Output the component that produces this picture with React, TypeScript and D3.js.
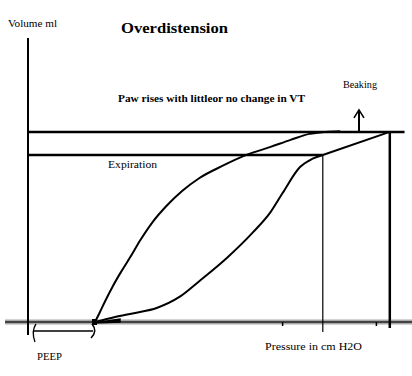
import React from "react";
import * as d3 from "d3";

// Inspiratory limb (pressure cmH2O, volume ml)
const inspPressure = [5, 6.5, 8, 9.6, 11.3, 12.8, 14.9, 16.8, 18.1, 19, 20.3, 21.2, 22];
const inspVolume = [0, 15, 27, 42, 75, 123, 194, 269, 329, 386, 464, 488, 500];
// Overdistension "beak" segment
const beakPressure = [22, 27];
const beakVolume = [500, 569];
// Expiratory limb
const expPressure = [5, 5.3, 5.8, 6.3, 6.9, 7.6, 8.4, 9.3, 10.4, 11.5, 12.8, 14.5, 16.3, 18.1, 19.6, 21, 22.2, 23.3];
const expVolume = [0, 24, 66, 105, 147, 192, 246, 299, 350, 392, 431, 467, 500, 524, 545, 563, 569, 571];

const peep = 5;
const tidalVolume = 500;
const peakVolume = 569;
const endPressure = 22;
const peakPressure = 27;
const beakArrowPressure = 24.7;
const axisTicks = [19, 26];

const W = 412;
const H = 376;

export default function App() {
  const x = d3.scaleLinear().domain([0, 30]).range([28, 430]);
  const y = d3.scaleLinear().domain([0, 850]).range([322, 38]);

  const smooth = d3
    .line<[number, number]>()
    .x((d) => x(d[0]))
    .y((d) => y(d[1]))
    .curve(d3.curveMonotoneX);
  const straight = d3
    .line<[number, number]>()
    .x((d) => x(d[0]))
    .y((d) => y(d[1]));

  const insp = inspPressure.map((p, i) => [p, inspVolume[i]] as [number, number]);
  const beak = beakPressure.map((p, i) => [p, beakVolume[i]] as [number, number]);
  const exp = expPressure.map((p, i) => [p, expVolume[i]] as [number, number]);

  const x0 = x(0);
  const y0 = y(0);
  const font = '"Liberation Serif", "Times New Roman", Times, serif';
  const ax = x(beakArrowPressure);
  const arrowTop = y(peakVolume) - 22;

  const bracketY = y0 + 9;
  const px = x(peep);
  const ts = { fontFamily: font };

  return (
    <svg
      width={W}
      height={H}
      style={{ position: "absolute", left: 0, top: 0, background: "#fff" }}
    >
      <rect x={0} y={0} width={W} height={H} fill="#fff" />
      {/* x axis: gray band with dark line */}
      <line x1={5} x2={412} y1={y0} y2={y0} stroke="#a8a8a8" strokeWidth={5} />
      <line x1={5} x2={412} y1={y0} y2={y0} stroke="#222" strokeWidth={1.3} />
      {axisTicks.map((t) => (
        <line key={t} x1={x(t)} x2={x(t)} y1={y0} y2={y0 + 4} stroke="#000" strokeWidth={1.5} />
      ))}
      {/* y axis */}
      <line x1={x0} x2={x0} y1={38} y2={y0 + 13} stroke="#000" strokeWidth={2} />

      {/* reference lines */}
      <line x1={x0} x2={x(28.1)} y1={y(peakVolume)} y2={y(peakVolume)} stroke="#000" strokeWidth={2.5} />
      <line x1={x0} x2={x(endPressure)} y1={y(tidalVolume)} y2={y(tidalVolume)} stroke="#000" strokeWidth={2.5} />
      <line x1={x(endPressure)} x2={x(endPressure)} y1={y(tidalVolume)} y2={y0 + 10} stroke="#000" strokeWidth={1.2} />
      <line x1={x(peakPressure)} x2={x(peakPressure)} y1={y(peakVolume)} y2={y0 + 6} stroke="#000" strokeWidth={2.5} />

      {/* loop */}
      <path d={smooth(insp) || ""} fill="none" stroke="#000" strokeWidth={2} />
      <path d={straight(beak) || ""} fill="none" stroke="#000" strokeWidth={2} />
      <path d={smooth(exp) || ""} fill="none" stroke="#000" strokeWidth={2} />
      <path
        d={`M${px - 2},${y0 + 1} L${px + 25},${y0 - 3} L${px + 25},${y0} Z`}
        fill="#000"
        stroke="#000"
        strokeWidth={1.5}
      />
      <rect x={px - 3} y={y0 - 3} width={5} height={6} fill="#000" />

      {/* beaking arrow */}
      <line x1={ax} x2={ax} y1={y(peakVolume)} y2={arrowTop} stroke="#000" strokeWidth={2} />
      <path
        d={`M${ax - 5},${arrowTop + 8} L${ax},${arrowTop} L${ax + 5},${arrowTop + 8}`}
        fill="none"
        stroke="#000"
        strokeWidth={1.6}
      />

      {/* PEEP bracket */}
      <line x1={33} x2={px - 2} y1={bracketY} y2={bracketY} stroke="#000" strokeWidth={1.5} />
      <path d={`M36,${y0 + 2} Q31,${bracketY} 35,${y0 + 20}`} fill="none" stroke="#000" strokeWidth={1.3} />
      <path
        d={`M${px - 3},${y0 + 2} Q${px + 3},${bracketY} ${px - 4},${y0 + 16}`}
        fill="none"
        stroke="#000"
        strokeWidth={1.5}
      />

      {/* texts */}
      <text style={ts} x={8} y={27} fontSize={10} textLength={49} lengthAdjust="spacingAndGlyphs">
        Volume ml
      </text>
      <text style={ts} x={121} y={33} fontSize={15} fontWeight="bold" textLength={107} lengthAdjust="spacingAndGlyphs">
        Overdistension
      </text>
      <text style={ts} x={118} y={102} fontSize={10} fontWeight="bold" textLength={187} lengthAdjust="spacingAndGlyphs">
        Paw rises with littleor no change in VT
      </text>
      <text style={ts} x={343} y={88} fontSize={11} textLength={34} lengthAdjust="spacingAndGlyphs">
        Beaking
      </text>
      <text style={ts} x={108} y={168} fontSize={10} textLength={49} lengthAdjust="spacingAndGlyphs">
        Expiration
      </text>
      <text style={ts} x={265} y={350} fontSize={10} textLength={97} lengthAdjust="spacingAndGlyphs">
        Pressure in cm H2O
      </text>
      <text style={ts} x={37} y={360} fontSize={10} textLength={25} lengthAdjust="spacingAndGlyphs">
        PEEP
      </text>
    </svg>
  );
}
